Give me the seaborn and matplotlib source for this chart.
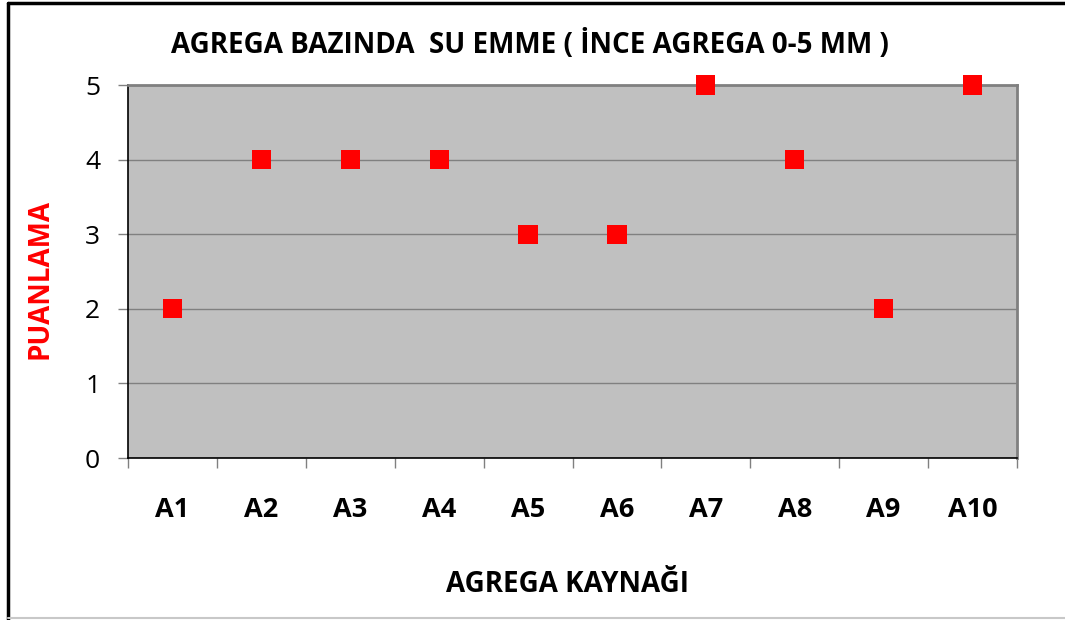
import matplotlib
matplotlib.use("Agg")
import matplotlib.pyplot as plt
from matplotlib.lines import Line2D
import seaborn as sns
import pandas as pd

# Water absorption scores per aggregate source (fine aggregate 0-5 mm)
sources = ["A1", "A2", "A3", "A4", "A5", "A6", "A7", "A8", "A9", "A10"]
scores = [2, 4, 4, 4, 3, 3, 5, 4, 2, 5]
y_ticks = [0, 1, 2, 3, 4, 5]

title = "AGREGA BAZINDA  SU EMME ( İNCE AGREGA 0-5 MM )"
x_label = "AGREGA KAYNAĞI"
y_label = "PUANLAMA"

sns.set_theme(style="white")
plt.rcParams["font.family"] = ["Open Sans", "DejaVu Sans"]

df = pd.DataFrame({"source": sources, "score": scores})

W, H = 1065, 620
fig = plt.figure(figsize=(W / 100, H / 100), dpi=100)
fig.patch.set_facecolor("white")
ax = fig.add_axes([128 / W, 1 - 458 / H, (1017 - 128) / W, (458 - 85) / H])
ax.set_facecolor("#C0C0C0")

sns.scatterplot(data=df, x="source", y="score", marker="s", s=190,
                color="#FF0000", edgecolor="none", linewidth=0, ax=ax,
                zorder=5, clip_on=False, legend=False)

ax.set_xlim(-0.5, len(sources) - 0.5)
ax.set_ylim(0, 5)
ax.set_yticks(y_ticks)
ax.set_yticklabels([str(v) for v in y_ticks], fontsize=19)
ax.set_xticks(range(len(sources)))
ax.set_xticklabels(sources, fontsize=19.5, fontweight="bold")
ax.set_xticks([i - 0.5 for i in range(len(sources) + 1)], minor=True)

ax.yaxis.grid(True, color="#808080", linewidth=1)
ax.set_axisbelow(True)

ax.tick_params(axis="y", which="major", direction="out", length=7, width=1,
               color="#808080", pad=13, left=True, labelcolor="black")
ax.tick_params(axis="x", which="major", length=0, pad=28, labelcolor="black")
ax.tick_params(axis="x", which="minor", direction="out", length=7, width=1,
               color="#808080", bottom=True)

for side in ["left", "bottom"]:
    ax.spines[side].set_color("black")
    ax.spines[side].set_linewidth(1.2)
for side in ["top", "right"]:
    ax.spines[side].set_visible(True)
    ax.spines[side].set_color("#808080")
    ax.spines[side].set_linewidth(2)

ax.set_xlabel("")
ax.set_ylabel("")

fig.text(530 / W, 1 - 45 / H, title, ha="center", va="center",
         fontsize=20, fontweight="bold", color="black")
fig.text(568 / W, 1 - 585 / H, x_label, ha="center", va="center",
         fontsize=20, fontweight="bold", color="black")
fig.text(40 / W, 1 - 279 / H, y_label, ha="center", va="center",
         rotation=90, fontsize=20, fontweight="bold", color="#FF0000")

# Chart frame
fig.add_artist(Line2D([8 / W, 1], [1 - 3 / H, 1 - 3 / H], color="black",
                      linewidth=2.5, transform=fig.transFigure))
fig.add_artist(Line2D([8 / W, 8 / W], [0, 1 - 3 / H], color="black",
                      linewidth=2.5, transform=fig.transFigure))
fig.add_artist(Line2D([8 / W, 1], [1 - 618 / H, 1 - 618 / H], color="#C8C8C8",
                      linewidth=1.5, transform=fig.transFigure))

fig.savefig("out.png", dpi=100, facecolor="white")
